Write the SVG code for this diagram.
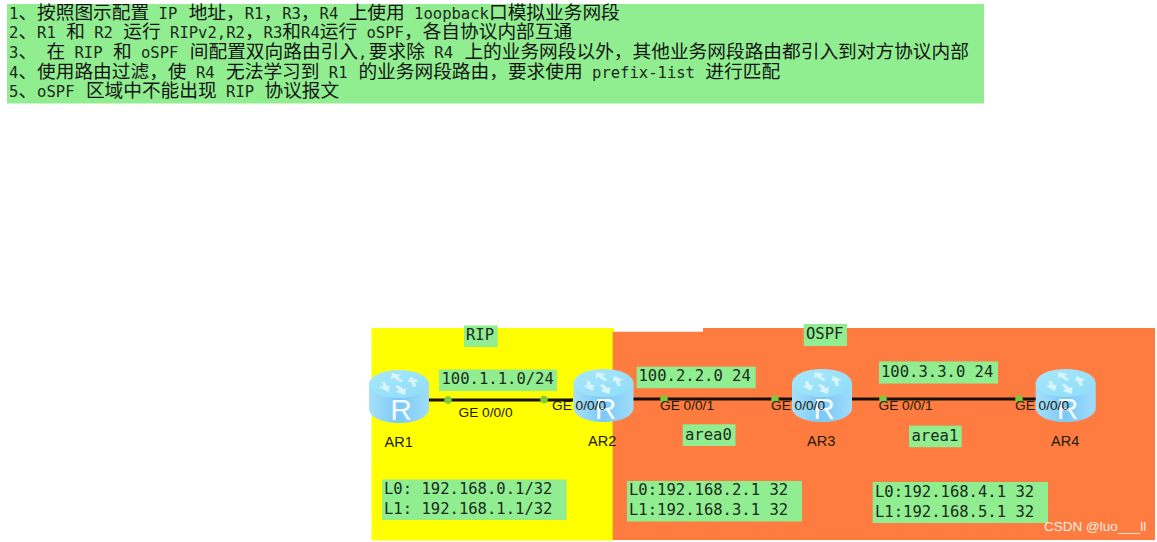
<svg xmlns="http://www.w3.org/2000/svg" width="1157" height="542" viewBox="0 0 1157 542">
<style>
text{text-spacing-trim:space-all;font-kerning:none}
.lb{fill:#90ee90}
.m{font-family:"DejaVu Sans Mono","Liberation Mono",monospace;font-size:15.55px;fill:#1c2a1c}
.c{font-family:"Noto Sans CJK SC",sans-serif;font-size:18.7px;fill:#141414}
.s{font-family:"Liberation Sans",Arial,sans-serif;fill:#221a08}
.ge{font-size:13.7px}
.ar{font-size:14.5px}
.ln{stroke:#161008;stroke-width:2.8;fill:none}
.dot{fill:#7cc93c}
</style>
<defs>
<linearGradient id="side" x1="0" x2="1" y1="0" y2="0"><stop offset="0" stop-color="#a6e0fb"/><stop offset=".5" stop-color="#7cc8f6"/><stop offset="1" stop-color="#a0dcfb"/></linearGradient>
<linearGradient id="top" x1="0" x2="1" y1="0" y2="1"><stop offset="0" stop-color="#a8e8fb"/><stop offset="1" stop-color="#8fdcf8"/></linearGradient>
<g id="router">
<path d="M0 14V39C0 47 13 53 30 53S60 47 60 39V14Z" fill="url(#side)"/>
<ellipse cx="30" cy="14" rx="30" ry="14" fill="url(#top)"/>
<g fill="#d8f4fc">
<path d="M23 3l9 2-3 2 5 4-3 1-6-4-3 1Z"/>
<path d="M41 7l9 4-4 1 1 5-3 0-2-5-3 0Z"/>
<path d="M36 25l-9-3 3-2-4-4 3-1 5 4 3-1Z"/>
<path d="M19 22l-9-5 4-1-1-4 3 0 2 4 3 0Z"/>
</g>
<text x="32" y="50" text-anchor="middle" font-family="'Liberation Sans',Arial,sans-serif" font-size="30" fill="#f2fbff">R</text>
</g>
</defs>

<g id="requirements">
<rect x="7" y="4" width="977" height="99.500" class="lb"/>
<text xml:space="preserve" x="9" y="18.500" class="m">1<tspan class="c">&#x3001;按照图示配置</tspan> IP <tspan class="c" dx="2">地址&#xFF0C;</tspan>R1<tspan class="c">&#xFF0C;</tspan>R3<tspan class="c">&#xFF0C;</tspan>R4 <tspan class="c" dx="1">上使用</tspan> 1oopback<tspan class="c">口模拟业务网段</tspan></text>
<text xml:space="preserve" x="9" y="37.500" class="m">2<tspan class="c">&#x3001;</tspan>R1 <tspan class="c" dx="1">和</tspan> R2 <tspan class="c" dx="1">运行</tspan> RIPv2,R2<tspan class="c">&#xFF0C;</tspan>R3<tspan class="c">和</tspan>R4<tspan class="c">运行</tspan> oSPF<tspan class="c">&#xFF0C;各自协议内部互通</tspan></text>
<text xml:space="preserve" x="9" y="57.500" class="m">3<tspan class="c">&#x3001;</tspan> <tspan class="c">在</tspan> RIP <tspan class="c" dx="1">和</tspan> oSPF <tspan class="c" dx="2">间配置双向路由引入</tspan>,<tspan class="c" dx="1.500">要求除</tspan> R4 <tspan class="c" dx="2">上的业务网段以外&#xFF0C;其他业务网段路由都引入到对方协议内部</tspan></text>
<text xml:space="preserve" x="9" y="77.500" class="m">4<tspan class="c">&#x3001;使用路由过滤&#xFF0C;使</tspan> R4 <tspan class="c" dx="2">无法学习到</tspan> R1 <tspan class="c" dx="1.500">的业务网段路由&#xFF0C;要求使用</tspan> prefix-1ist <tspan class="c" dx="1">进行匹配</tspan></text>
<text xml:space="preserve" x="9" y="96.500" class="m">5<tspan class="c">&#x3001;</tspan>oSPF <tspan class="c" dx="2">区域中不能出现</tspan> RIP <tspan class="c" dx="1">协议报文</tspan></text>
</g>

<g id="zones">
<rect x="371.500" y="328" width="242.500" height="212.500" fill="#ffff00"/>
<path d="M612.700 331.700H703V328H1155V540H612.700Z" fill="#ff7c40"/>
</g>

<g id="connectors">
<path class="ln" d="M429 400H573"/>
<path class="ln" d="M633 399H792"/>
<path class="ln" d="M852 399H1036"/>
<circle class="dot" cx="448" cy="400" r="3.800"/>
<circle class="dot" cx="544" cy="399.500" r="3.800"/>
<circle class="dot" cx="664" cy="399" r="3.800"/>
<circle class="dot" cx="775" cy="399" r="3.800"/>
<circle class="dot" cx="883" cy="399" r="3.800"/>
<circle class="dot" cx="1019" cy="399" r="3.800"/>
</g>

<g id="AR1"><use href="#router" x="369" y="370"/><text class="s ar" x="384.500" y="447">AR1</text></g>
<g id="AR2"><use href="#router" x="573.500" y="369"/><text class="s ar" x="588" y="446">AR2</text></g>
<g id="AR3"><use href="#router" x="792" y="369"/><text class="s ar" x="807" y="446">AR3</text></g>
<g id="AR4"><use href="#router" x="1035.700" y="369"/><text class="s ar" x="1051" y="446">AR4</text></g>

<g id="interface-labels">
<text class="s ge" x="458.500" y="417">GE 0/0/0</text>
<text class="s ge" x="552" y="410">GE 0/0/0</text>
<text class="s ge" x="660" y="410">GE 0/0/1</text>
<text class="s ge" x="771" y="410">GE 0/0/0</text>
<text class="s ge" x="878.500" y="410">GE 0/0/1</text>
<text class="s ge" x="1015" y="410">GE 0/0/0</text>
</g>

<g id="label-rip"><rect class="lb" x="464" y="325.500" width="33.700" height="21.500"/><text class="m" x="466" y="340">RIP</text></g>
<g id="label-ospf"><rect class="lb" x="803.700" y="324" width="43.300" height="22"/><text class="m" x="806" y="339">OSPF</text></g>
<g id="label-net1"><rect class="lb" x="439" y="369.500" width="118" height="21.500"/><text class="m" x="441.500" y="384">100.1.1.0/24</text></g>
<g id="label-net2"><rect class="lb" x="636.700" y="366.700" width="119" height="21.500"/><text class="m" x="638.500" y="381">100.2.2.0 24</text></g>
<g id="label-net3"><rect class="lb" x="879" y="361.500" width="119" height="22"/><text class="m" x="881" y="377">100.3.3.0 24</text></g>
<g id="label-area0"><rect class="lb" x="682.700" y="424.300" width="52.800" height="21.700"/><text class="m" x="685" y="440">area0</text></g>
<g id="label-area1"><rect class="lb" x="909" y="425.700" width="52.700" height="21.500"/><text class="m" x="911.500" y="441">area1</text></g>
<g id="label-loop-r1"><rect class="lb" x="382" y="479.500" width="184.500" height="40.500"/><text class="m" x="384" y="494">L0: 192.168.0.1/32</text><text class="m" x="384" y="514">L1: 192.168.1.1/32</text></g>
<g id="label-loop-r2"><rect class="lb" x="627" y="481" width="175" height="40.500"/><text class="m" x="629" y="495">L0:192.168.2.1 32</text><text class="m" x="629" y="515">L1:192.168.3.1 32</text></g>
<g id="label-loop-r3"><rect class="lb" x="872.700" y="482" width="175.300" height="41"/><text class="m" x="875" y="497">L0:192.168.4.1 32</text><text class="m" x="875" y="517">L1:192.168.5.1 32</text></g>
<text x="1044" y="531" font-family="'Liberation Sans',Arial,sans-serif" font-size="13.500" fill="#f4ece6">CSDN @luo___ll</text>
</svg>
